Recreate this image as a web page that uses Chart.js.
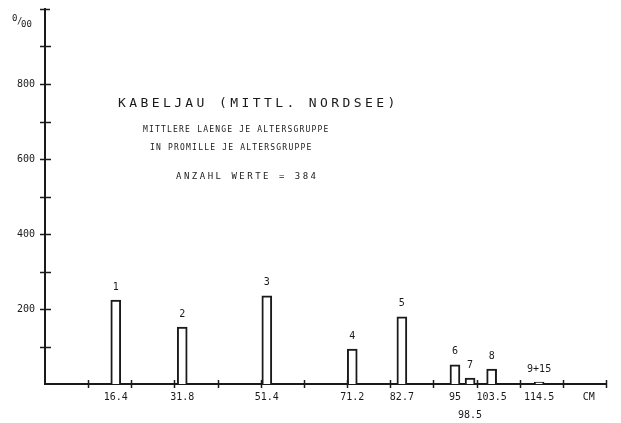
<!DOCTYPE html>
<html>
<head>
<meta charset="utf-8">
<title>Kabeljau (Mittl. Nordsee)</title>
<script src="https://cdn.jsdelivr.net/npm/chart.js@4/dist/chart.umd.min.js"></script>
<style>
  html, body { margin: 0; padding: 0; background: #fff; }
  #wrap { width: 621px; height: 423px; }
</style>
</head>
<body>
<div id="wrap"><canvas id="chart" width="621" height="423"></canvas></div>
<script>
// --- data ---
const ageGroups = ['1', '2', '3', '4', '5', '6', '7', '8', '9+15'];
const meanLengthCm = [16.4, 31.8, 51.4, 71.2, 82.7, 95, 98.5, 103.5, 114.5];
const lengthLabels = ['16.4', '31.8', '51.4', '71.2', '82.7', '95', '98.5', '103.5', '114.5'];
const promille = [224, 152, 235, 93, 179, 51, 16, 40, 5];
const labelRow = [0, 0, 0, 0, 0, 0, 1, 0, 0]; // 98.5 sits on a second line

const yLabels = [200, 400, 600, 800];
const titleLines = [
  'KABELJAU (MITTL. NORDSEE)',
  'MITTLERE LAENGE JE ALTERSGRUPPE',
  'IN PROMILLE JE ALTERSGRUPPE',
  'ANZAHL WERTE = 384'
];

const INK = '#1a1a1a';
const MONO = '"DejaVu Sans Mono", "Liberation Mono", monospace';

// tick marks that cross the axes, x labels, bar numbers and the text block
const plotterPlugin = {
  id: 'plotter',
  afterDraw(chart) {
    const ctx = chart.ctx;
    const x = chart.scales.x;
    const y = chart.scales.y;
    const x0 = x.getPixelForValue(0);
    const y0 = y.getPixelForValue(0);

    ctx.save();
    ctx.strokeStyle = INK;
    ctx.fillStyle = INK;
    ctx.lineWidth = 1.5;

    // y axis ticks every 100
    for (let v = 100; v <= 1000; v += 100) {
      const py = Math.round(y.getPixelForValue(v)) + 0.5;
      const half = v === 1000 ? 5 : 6;
      ctx.beginPath();
      ctx.moveTo(x0 - 5, py);
      ctx.lineTo(x0 + half, py);
      ctx.stroke();
    }
    // x axis ticks every 10 cm
    for (let v = 10; v <= 130; v += 10) {
      const px = Math.round(x.getPixelForValue(v)) + 0.5;
      ctx.beginPath();
      ctx.moveTo(px, y0 - 4);
      ctx.lineTo(px, y0 + 4);
      ctx.stroke();
    }

    // promille sign at the top of the y axis
    ctx.font = '9px ' + MONO;
    ctx.textAlign = 'left';
    ctx.textBaseline = 'middle';
    ctx.fillText('0', 12, 19);
    ctx.fillText('/', 17, 22);
    ctx.fillText('00', 21, 25);

    // x labels under the bars
    ctx.font = '10px ' + MONO;
    ctx.textAlign = 'center';
    const meta = chart.getDatasetMeta(0);
    meta.data.forEach((bar, i) => {
      const ly = labelRow[i] ? y0 + 31 : y0 + 13;
      ctx.fillText(lengthLabels[i], bar.x, ly);
      ctx.fillText(ageGroups[i], bar.x, bar.y - 13);
    });
    ctx.fillText('CM', x.getPixelForValue(126), y0 + 13);

    // text block
    ctx.font = '13px ' + MONO;
    ctx.letterSpacing = '3.4px';
    ctx.textAlign = 'left';
    ctx.fillText(titleLines[0], 118, 104);
    ctx.font = '8px ' + MONO;
    ctx.letterSpacing = '1.2px';
    ctx.fillText(titleLines[1], 143, 130);
    ctx.fillText(titleLines[2], 150, 148);
    ctx.font = '9px ' + MONO;
    ctx.letterSpacing = '2.5px';
    ctx.fillText(titleLines[3], 176, 177);
    ctx.restore();
  }
};

new Chart(document.getElementById('chart'), {
  type: 'bar',
  data: {
    datasets: [{
      data: meanLengthCm.map((v, i) => ({ x: v, y: promille[i] })),
      backgroundColor: '#ffffff',
      borderColor: INK,
      borderWidth: 2,
      borderSkipped: 'bottom',
      barThickness: 10
    }]
  },
  options: {
    responsive: false,
    animation: false,
    layout: { padding: { top: 9, right: 15, left: 0, bottom: 0 } },
    plugins: { legend: { display: false }, tooltip: { enabled: false } },
    scales: {
      x: {
        type: 'linear',
        min: 0,
        max: 130,
        offset: false,
        grid: { display: false, drawTicks: false },
        border: { display: true, width: 2, color: INK },
        ticks: { display: false },
        afterFit: s => { s.height = 39; s.paddingLeft = 0; s.paddingRight = 0; }
      },
      y: {
        min: 0,
        max: 1000,
        grid: { display: false, drawTicks: false },
        border: { display: true, width: 2, color: INK },
        ticks: {
          stepSize: 100,
          padding: 10,
          color: INK,
          font: { family: MONO, size: 10 },
          callback: v => yLabels.includes(v) ? String(v) : ''
        },
        afterFit: s => { s.width = 45; s.paddingTop = 0; s.paddingBottom = 0; }
      }
    }
  },
  plugins: [plotterPlugin]
});
</script>
</body>
</html>
